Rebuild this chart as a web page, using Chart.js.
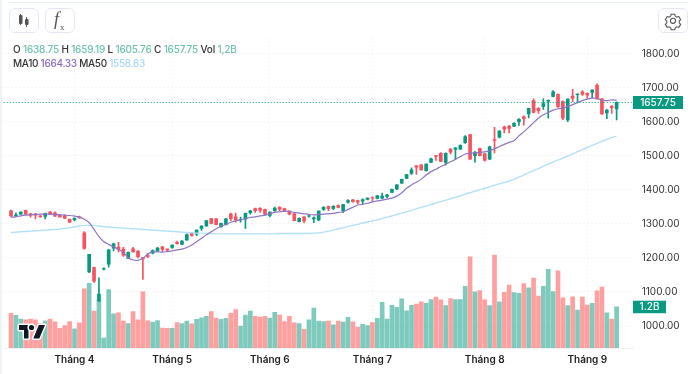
<!DOCTYPE html>
<html>
<head>
<meta charset="utf-8">
<script src="https://cdn.jsdelivr.net/npm/chart.js@4"></script>
<style>
  html, body { margin: 0; padding: 0; background: #fff; }
  body { width: 700px; height: 374px; position: relative; overflow: hidden; font-family: Inter, sans-serif; }
  #chart1 { position: absolute; left: 0; top: 0; }
  .edge-top { position: absolute; left: 9px; top: 2px; width: 679px; height: 1px; background: #e6eef5; }
  .edge-left { position: absolute; left: 0; top: 0; width: 2px; height: 374px; background: #eef3f8; }
  .btn { position: absolute; top: 8px; width: 28px; height: 23px; border: 1px solid #e4e9f1; border-radius: 6px; background: #fff; }
  .legend { position: absolute; left: 13px; font-size: 10px; font-weight: 500; line-height: 14px; color: #333; white-space: nowrap; }
  .up { color: #6fc0b0; }
  .purple { color: #8a6cc0; }
  .blue { color: #a5d9f8; }
  .fx { position: absolute; left: 54px; top: 9px; font: italic 18px "Liberation Serif", serif; color: #555; }
  .fx sub { font-size: 9px; font-style: normal; margin-left: 1px; }
  #logo { position: absolute; left: 0; top: 0; }
</style>
</head>
<body>
<canvas id="chart1" width="700" height="374"></canvas>
<div class="edge-top"></div>
<div class="edge-left"></div>

<div class="btn" style="left:9px">
  <svg width="28" height="23">
    <path d="M10.500 5v11M16.500 8v10" stroke="#555" stroke-width="1"/>
    <rect x="9" y="6" width="3.500" height="9" rx="1" fill="#555"/>
    <rect x="15" y="10" width="3.500" height="6" rx="1" fill="#555"/>
  </svg>
</div>
<div class="btn" style="left:45px"></div>
<div class="fx">f<sub>x</sub></div>
<div class="btn" style="left:658px">
  <svg width="28" height="23" viewBox="0 0 28 23">
    <path d="M12 4.5h4l.6 2.2 1.7 1 2.2-.6 2 3.4-1.6 1.6v2l1.6 1.6-2 3.4-2.2-.6-1.7 1-.6 2.2h-4l-.6-2.2-1.7-1-2.2.6-2-3.4 1.6-1.6v-2L5.500 10.500l2-3.400 2.200.6 1.700-1z" transform="translate(1.400 1.200) scale(.9)" fill="none" stroke="#555" stroke-width="1.200"/>
    <circle cx="14" cy="11.800" r="2.600" fill="none" stroke="#555" stroke-width="1.100"/>
  </svg>
</div>

<div class="legend" style="top:42px;letter-spacing:-0.2px">O <span class="up">1638.75</span> H <span class="up">1659.19</span> L <span class="up">1605.76</span> C <span class="up">1657.75</span> Vol <span class="up">1,2B</span></div>
<div class="legend" style="top:56px;letter-spacing:-0.3px">MA10 <span class="purple">1664.33</span> MA50 <span class="blue">1558.63</span></div>

<svg id="logo" width="700" height="374">
  <g fill="#131722" stroke="#fff" stroke-width="3" paint-order="stroke" stroke-linejoin="round">
    <path d="M19 325H28.500V338.500H24V330H19z"/>
    <circle cx="31.500" cy="327.500" r="2.600"/>
    <path d="M38.800 325H45L39.300 338.500H33.300z"/>
  </g>
</svg>

<script>
const opens = [
  1339, 1324, 1329, 1340, 1330, 1329, 1324, 1322, 1335, 1333,
  1326, 1325, 1314, 1312, 1321, 1274, 1159, 1172, 1074, 1167,
  1182, 1229, 1232, 1226, 1199, 1227, 1220, 1201, 1207, 1214,
  1221, 1233, 1227, 1231, 1246, 1240, 1253, 1273, 1270, 1287,
  1294, 1316, 1315, 1292, 1298, 1330, 1321, 1313, 1314, 1333,
  1345, 1346, 1343, 1325, 1339, 1349, 1345, 1338, 1330, 1307,
  1321, 1323, 1315, 1312, 1343, 1352, 1346, 1355, 1339, 1364,
  1371, 1369, 1367, 1372, 1378, 1375, 1376, 1381, 1393, 1403,
  1420, 1434, 1449, 1471, 1474, 1457, 1481, 1501, 1508, 1481,
  1520, 1519, 1520, 1539, 1563, 1501, 1522, 1506, 1491, 1548,
  1555, 1586, 1588, 1588, 1601, 1615, 1624, 1663, 1640, 1646,
  1661, 1675, 1681, 1660, 1606, 1676, 1680, 1689, 1684, 1687,
  1708, 1668, 1627, 1647, 1638.75
];
const highs = [
  1341, 1333, 1336, 1341, 1331, 1331, 1325, 1332, 1337, 1336,
  1328, 1327, 1315, 1318, 1323, 1278, 1211, 1173, 1142, 1171,
  1225, 1244, 1246, 1231, 1218, 1231, 1222, 1202, 1214, 1224,
  1231, 1234, 1225, 1239, 1250, 1251, 1271, 1274, 1283, 1295,
  1311, 1317, 1316, 1303, 1316, 1332, 1332, 1320, 1332, 1340,
  1347, 1348, 1344, 1336, 1350, 1351, 1347, 1339, 1331, 1318,
  1322, 1326, 1321, 1339, 1351, 1353, 1354, 1356, 1358, 1372,
  1372, 1370, 1374, 1377, 1380, 1384, 1391, 1387, 1403, 1416,
  1432, 1446, 1465, 1472, 1475, 1477, 1494, 1502, 1510, 1509,
  1522, 1525, 1533, 1560, 1564, 1514, 1523, 1508, 1529, 1584,
  1575, 1588, 1590, 1598, 1610, 1618, 1641, 1668, 1642, 1668,
  1665, 1692, 1683, 1662, 1668, 1696, 1683, 1692, 1686, 1695,
  1712, 1669, 1637, 1648, 1659.19
];
const lows = [
  1321, 1323, 1328, 1328, 1320, 1315, 1320, 1315, 1328, 1322,
  1320, 1316, 1304, 1309, 1317, 1226, 1157, 1128, 1072, 1165,
  1173, 1221, 1218, 1205, 1198, 1217, 1200, 1137, 1201, 1212,
  1219, 1219, 1221, 1228, 1241, 1239, 1252, 1264, 1266, 1281,
  1293, 1300, 1297, 1290, 1297, 1310, 1305, 1305, 1287, 1329,
  1334, 1334, 1326, 1321, 1337, 1339, 1336, 1327, 1309, 1306,
  1304, 1320, 1304, 1310, 1340, 1339, 1342, 1347, 1333, 1361,
  1364, 1359, 1358, 1371, 1367, 1374, 1374, 1377, 1392, 1401,
  1419, 1433, 1446, 1446, 1458, 1455, 1480, 1487, 1483, 1473,
  1506, 1490, 1519, 1537, 1490, 1482, 1500, 1485, 1489, 1509,
  1553, 1568, 1568, 1586, 1590, 1591, 1612, 1627, 1625, 1637,
  1611, 1674, 1643, 1607, 1601, 1660, 1658, 1678, 1670, 1671,
  1667, 1622, 1610, 1625, 1605.76
];
const closes = [
  1324, 1327, 1335, 1329, 1326, 1326, 1321, 1331, 1329, 1323,
  1321, 1317, 1305, 1317, 1318, 1228, 1211, 1132, 1094, 1169,
  1224, 1242, 1225, 1208, 1217, 1218, 1204, 1197, 1205, 1222,
  1229, 1225, 1223, 1238, 1242, 1250, 1269, 1266, 1282, 1294,
  1310, 1302, 1298, 1302, 1315, 1316, 1312, 1314, 1331, 1339,
  1339, 1341, 1329, 1335, 1347, 1343, 1339, 1329, 1310, 1317,
  1309, 1324, 1318, 1338, 1349, 1345, 1352, 1349, 1357, 1369,
  1366, 1364, 1372, 1376, 1376, 1383, 1382, 1386, 1402, 1415,
  1431, 1445, 1459, 1467, 1459, 1476, 1492, 1499, 1484, 1508,
  1511, 1524, 1531, 1557, 1491, 1510, 1501, 1488, 1527, 1546,
  1573, 1579, 1581, 1596, 1608, 1610, 1640, 1628, 1633, 1654,
  1664, 1689, 1645, 1611, 1667, 1669, 1682, 1681, 1679, 1694,
  1668, 1624, 1635, 1642, 1657.75
];
// billions
const volumes = [
  1.01, 0.95, 0.84, 0.82, 0.84, 0.82, 0.72, 0.79, 0.84, 0.76,
  0.57, 0.65, 0.77, 0.56, 0.73, 1.72, 1.88, 1.07, 1.40, 0.29,
  1.70, 0.99, 1.02, 0.78, 0.71, 1.06, 0.82, 1.63, 0.79, 0.75,
  0.80, 0.58, 0.57, 0.57, 0.74, 0.71, 0.78, 0.70, 0.83, 0.88,
  0.92, 1.06, 0.87, 0.83, 0.86, 1.01, 1.12, 0.64, 0.96, 1.07,
  0.92, 0.90, 0.92, 0.87, 1.04, 0.96, 0.77, 0.92, 0.73, 0.71,
  0.54, 0.82, 1.16, 0.78, 0.77, 0.78, 0.67, 0.78, 0.75, 0.89,
  0.76, 0.61, 0.69, 0.65, 0.74, 0.86, 1.33, 0.84, 1.24, 1.18,
  1.43, 1.08, 1.24, 1.28, 1.34, 1.30, 1.41, 1.48, 1.40, 1.23,
  1.44, 1.41, 1.41, 1.79, 2.65, 1.63, 1.67, 1.40, 1.23, 2.70,
  1.34, 1.62, 1.83, 1.61, 1.59, 1.87, 1.75, 2.03, 1.51, 1.79,
  2.29, 1.64, 2.24, 1.46, 1.23, 1.49, 1.10, 1.48, 1.25, 1.30,
  1.66, 1.77, 1.02, 0.84, 1.20
];
const ma10 = [
  1320, 1321, 1324, 1326, 1327, 1328, 1329, 1329, 1329, 1328,
  1327, 1326, 1325, 1323, 1320, 1314, 1304, 1284, 1263, 1248,
  1240, 1233, 1226, 1216, 1201, 1194, 1193, 1199, 1212, 1218,
  1218, 1217, 1219, 1221, 1224, 1226, 1231, 1238, 1248, 1258,
  1268, 1277, 1286, 1294, 1299, 1305, 1309, 1312, 1316, 1319,
  1321, 1324, 1326, 1330, 1334, 1336, 1338, 1337, 1334, 1332,
  1330, 1328, 1327, 1328, 1329, 1330, 1331, 1334, 1336, 1343,
  1349, 1356, 1358, 1361, 1365, 1368, 1370, 1373, 1376, 1382,
  1392, 1405, 1415, 1423, 1432, 1444, 1454, 1461, 1469, 1476,
  1483, 1490, 1498, 1506, 1508, 1509, 1511, 1512, 1515, 1521,
  1528, 1534, 1540, 1545, 1559, 1571, 1584, 1598, 1611, 1621,
  1628, 1635, 1639, 1641, 1645, 1651, 1657, 1663, 1667, 1670,
  1669, 1664, 1663, 1665, 1664.33
];
const ma50 = [
  1275, 1276, 1277, 1278, 1279, 1280, 1281, 1282, 1283, 1284,
  1285, 1287, 1289, 1291, 1294, 1296, 1296, 1296, 1294, 1292,
  1291, 1290, 1289, 1288, 1287, 1286, 1285, 1284, 1283, 1282,
  1281, 1280, 1279, 1278, 1277, 1276, 1275, 1274, 1273, 1273,
  1272, 1272, 1271, 1271, 1271, 1271, 1271, 1271, 1271, 1271,
  1271, 1271, 1271, 1271, 1271, 1272, 1272, 1272, 1272, 1272,
  1272, 1272, 1273, 1274, 1276, 1279, 1282, 1286, 1289, 1293,
  1296, 1299, 1303, 1306, 1309, 1312, 1316, 1320, 1324, 1328,
  1332, 1336, 1340, 1345, 1349, 1353, 1357, 1362, 1366, 1370,
  1374, 1379, 1383, 1388, 1392, 1396, 1401, 1405, 1409, 1414,
  1418, 1422, 1426, 1432, 1438, 1444, 1451, 1457, 1463, 1470,
  1476, 1482, 1488, 1494, 1500, 1506, 1513, 1519, 1525, 1531,
  1537, 1543, 1549, 1554, 1558.63
];
const priceTicks = [1000, 1100, 1200, 1300, 1400, 1500, 1600, 1700, 1800];
const monthLabels = ['Tháng 4', 'Tháng 5', 'Tháng 6', 'Tháng 7', 'Tháng 8', 'Tháng 9'];
const monthStarts = [14, 34, 54, 75, 98, 119];

const GREEN = '#089981';
const RED = '#f7525f';
const GREEN_VOL = 'rgba(8,153,129,0.52)';
const RED_VOL = 'rgba(255,82,82,0.55)';

// one empty slot left of the first candle, three right of the last
const slots = 129;
const labels = new Array(slots).fill('');
monthStarts.forEach((s, i) => { labels[s] = monthLabels[i]; });
const pad = a => [null, ...a, null, null, null];

const isUp = opens.map((o, i) => closes[i] >= o);
const wicks = lows.map((l, i) => [l, highs[i]]);
const bodies = opens.map((o, i) => [o, closes[i]]);

const lastPriceTags = {
  id: 'lastPriceTags',
  afterDraw(chart) {
    const { ctx, chartArea, scales } = chart;
    const lastClose = closes[closes.length - 1];
    const lastVol = volumes[volumes.length - 1];
    const py = Math.round(scales.y.getPixelForValue(lastClose)) + 0.5;
    const vy = scales.vol.getPixelForValue(lastVol);

    ctx.save();
    ctx.strokeStyle = GREEN;
    ctx.setLineDash([1, 2]);
    ctx.beginPath();
    ctx.moveTo(chartArea.left, py);
    ctx.lineTo(634, py);
    ctx.stroke();
    ctx.setLineDash([]);

    ctx.fillStyle = GREEN;
    ctx.fillRect(633, py - 6.5, 50, 13);
    ctx.fillRect(633, vy - 6, 33, 12.5);
    ctx.fillStyle = '#fff';
    ctx.font = '500 10px Inter, sans-serif';
    ctx.textAlign = 'center';
    ctx.textBaseline = 'middle';
    ctx.fillText(lastClose.toFixed(2), 658, py + 0.5);
    ctx.fillText(lastVol.toFixed(1) + 'B', 649.5, vy + 0.5);
    ctx.restore();
  }
};

new Chart(document.getElementById('chart1').getContext('2d'), {
  data: {
    labels: labels,
    datasets: [
      {
        type: 'line', data: pad(ma10), yAxisID: 'y', order: 1,
        borderColor: '#8f74c6', borderWidth: 1.2, pointRadius: 0, tension: 0.2
      },
      {
        type: 'line', data: pad(ma50), yAxisID: 'y', order: 1,
        borderColor: '#b3e0f9', borderWidth: 1.4, pointRadius: 0, tension: 0.2
      },
      {
        type: 'bar', data: pad(bodies), yAxisID: 'y', order: 2, grouped: false,
        barThickness: 3, backgroundColor: pad(isUp.map(u => u ? GREEN : RED))
      },
      {
        type: 'bar', data: pad(wicks), yAxisID: 'y', order: 3, grouped: false,
        barThickness: 1, backgroundColor: pad(isUp.map(u => u ? GREEN : RED))
      },
      {
        type: 'bar', data: pad(volumes), yAxisID: 'vol', order: 4, grouped: false,
        barThickness: 4, backgroundColor: pad(isUp.map(u => u ? GREEN_VOL : RED_VOL))
      }
    ]
  },
  options: {
    responsive: false,
    animation: false,
    layout: { padding: { left: 3.7, top: 38, right: 0, bottom: 0 } },
    plugins: { legend: { display: false }, tooltip: { enabled: false } },
    scales: {
      x: {
        type: 'category',
        offset: true,
        afterBuildTicks(scale) { scale.ticks = monthStarts.map(s => ({ value: s })); },
        afterFit(scale) { scale.height = 26; },
        grid: { offset: false, color: '#e8ebef', drawTicks: false },
        border: { color: '#eef1f5', dash: [1, 3] },
        ticks: {
          autoSkip: false, maxRotation: 0, padding: 6,
          color: '#222', font: { family: 'Inter, sans-serif', size: 10, weight: '600' }
        }
      },
      y: {
        position: 'right',
        min: 935.3,
        max: 1847,
        afterBuildTicks(scale) { scale.ticks = priceTicks.map(v => ({ value: v })); },
        afterFit(scale) { scale.width = 66.3; },
        grid: { color: '#e8ebef', drawTicks: false },
        border: { display: false, dash: [1, 3] },
        ticks: {
          padding: 8,
          color: '#333', font: { family: 'Inter, sans-serif', size: 10 },
          callback: v => v.toFixed(2)
        }
      },
      vol: { display: false, min: 0, max: 9.01 }
    }
  },
  plugins: [lastPriceTags]
});
</script>
</body>
</html>
